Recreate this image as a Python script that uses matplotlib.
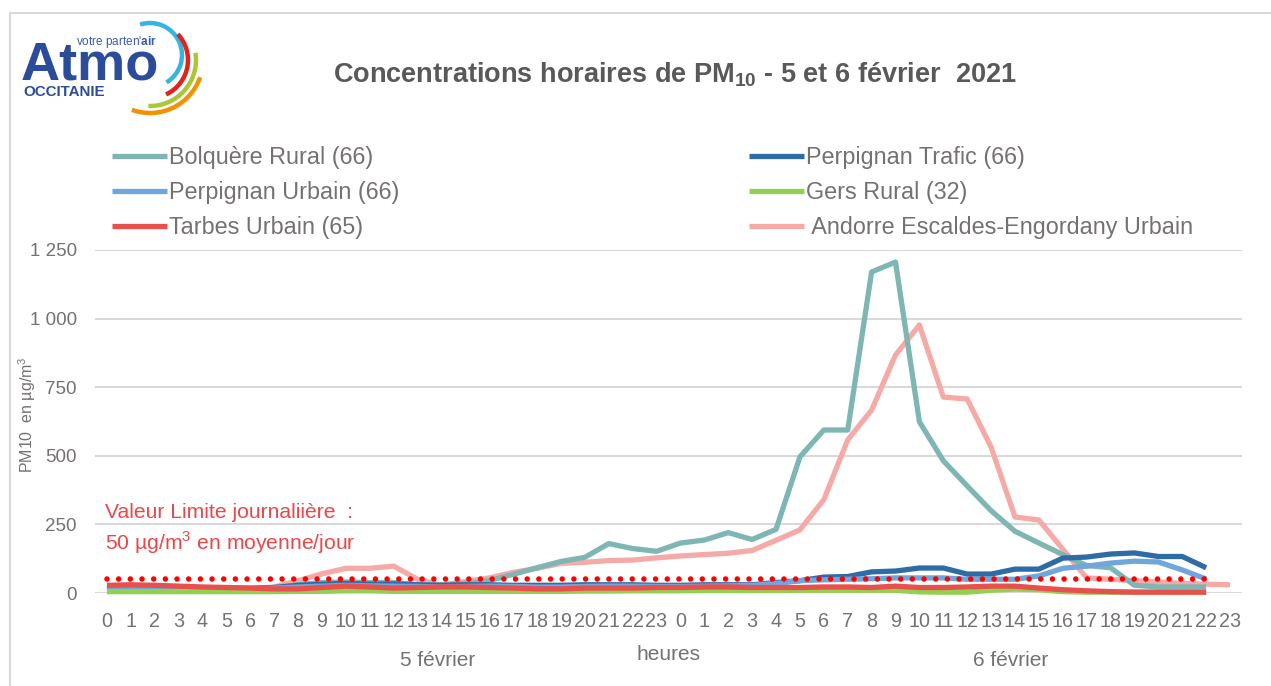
import numpy as np
import matplotlib
matplotlib.use('Agg')
import matplotlib.pyplot as plt
import matplotlib.transforms as mtransforms
from matplotlib import font_manager
from matplotlib.patches import Arc

# Hour labels, two days (5 and 6 February)
hours = [str(h) for h in range(24)] + [str(h) for h in range(24)]

nan = np.nan
bolquere = [20, 20, 18, 18, 18, 18, 18, 20, 30, 38, 40, 38, 38, 30, 30, 35,
            45, 68, 92, 115, 130, 180, 162, 152,
            182, 193, 220, 195, 232, 496, 594, 594, 1170, 1206, 624, 482,
            390, 300, 225, 182, 140, 100, 92, 28, 22, 22, 22, nan]
perpignan_trafic = [18, 18, 18, 16, 16, 16, 16, 20, 28, 32, 35, 32, 33, 30, 28, 30,
                    30, 28, 28, 28, 30, 30, 30, 28,
                    28, 30, 30, 30, 38, 45, 58, 60, 77, 80, 91, 91,
                    69, 69, 87, 87, 127, 131, 142, 146, 133, 133, 92, nan]
perpignan_urbain = [15, 15, 15, 15, 15, 15, 15, 18, 22, 25, 28, 26, 25, 24, 22, 24,
                    25, 24, 22, 22, 24, 25, 25, 24,
                    24, 25, 26, 28, 35, 45, 48, 50, 52, 55, 55, 55,
                    50, 50, 50, 62, 90, 98, 109, 116, 113, 84, 51, nan]
gers_rural = [5, 5, 5, 5, 5, 5, 5, 5, 6, 6, 8, 8, 6, 6, 6, 6,
              6, 6, 6, 6, 7, 7, 8, 8,
              8, 9, 9, 9, 9, 10, 10, 10, 10, 10, 4, 3,
              3, 10, 14, 12, 5, 3, 3, 3, 3, 3, 3, nan]
tarbes_urbain = [28, 30, 28, 25, 22, 20, 18, 15, 15, 20, 25, 22, 18, 20, 22, 22,
                 20, 18, 15, 15, 18, 18, 18, 20,
                 20, 22, 22, 20, 20, 20, 22, 22, 20, 25, 20, 20,
                 22, 25, 25, 18, 12, 8, 5, 3, 3, 3, 3, nan]
andorre = [18, 18, 15, 15, 15, 15, 15, 22, 45, 70, 90, 90, 98, 50, 28, 42,
           55, 75, 90, 108, 112, 118, 120, 128,
           135, 140, 145, 155, 192, 230, 340, 558, 667, 867, 977, 714,
           707, 532, 277, 266, 160, 55, 50, 45, 40, 35, 32, 30]
LIMIT = 50
n_limit = 47

labels = ["Bolquère Rural (66)", "Perpignan Trafic (66)", "Perpignan Urbain (66)",
          "Gers Rural (32)", "Tarbes Urbain (65)", " Andorre Escaldes-Engordany Urbain"]
colors = ["#7DB6B3", "#2E6CA7", "#6FA6DB", "#92D050", "#E8504E", "#F5AAA8"]

# font: narrow if available, else regular with sizes fitted to the widths
names = {f.name for f in font_manager.fontManager.ttflist}
NARROW = 'Liberation Sans Narrow' in names
FONT = 'Liberation Sans Narrow' if NARROW else 'Liberation Sans'
k = 1.2 if NARROW else 1.0
plt.rcParams['font.family'] = [FONT, 'DejaVu Sans']
plt.rcParams['mathtext.fontset'] = 'custom'
plt.rcParams['mathtext.rm'] = FONT
plt.rcParams['mathtext.bf'] = FONT + ':bold'

GRAY = '#767171'
RED_TXT = '#E84849'
W, H = 1271, 686

fig = plt.figure(figsize=(W / 100, H / 100), dpi=100)
ax = fig.add_axes([95 / W, (H - 593) / H, (1242 - 95) / W, (593 - 250) / H])

x = np.arange(len(hours))
series = [andorre, bolquere, perpignan_trafic, perpignan_urbain, gers_rural, tarbes_urbain]
order = [5, 0, 1, 2, 3, 4]
handles = {}
for i, s in zip(order, series):
    ln, = ax.plot(x, s, color=colors[i], lw=3.8, solid_joinstyle='round',
                  solid_capstyle='butt', clip_on=False, zorder=3)
    handles[i] = ln

ax.plot(x[:n_limit], [LIMIT] * n_limit, color='#FF0000', lw=4,
        linestyle=(0, (0.001, 2.1)), dash_capstyle='round', zorder=5)

ax.set_xlim(-0.5, len(hours) - 0.5)
ax.set_ylim(0, 1250)
ax.set_xticks(x)
ax.set_xticklabels(hours)
yt = [0, 250, 500, 750, 1000, 1250]
ax.set_yticks(yt)
ax.set_yticklabels([f"{v:,}".replace(",", " ") for v in yt])
ax.tick_params(axis='x', length=0, pad=14, labelsize=14.2 * k, labelcolor=GRAY)
ax.tick_params(axis='y', length=0, pad=13, labelsize=13.5 * k, labelcolor=GRAY)
for sp in ax.spines.values():
    sp.set_visible(False)
ax.yaxis.grid(True, color='#D9D9D9', lw=1.5)
ax.set_axisbelow(True)

# axis texts
fig.text(27 / W, 1 - 415 / H, "PM10  en µg/m$^{3}$", rotation=90, ha='center',
         va='center', fontsize=11.5 * k, color=GRAY)
tr = mtransforms.blended_transform_factory(ax.transData, fig.transFigure)
ax.text(13.85, 1 - 660 / H, "5 février", transform=tr, ha='center', va='center',
        fontsize=15 * k, color=GRAY)
ax.text(37.8, 1 - 660 / H, "6 février", transform=tr, ha='center', va='center',
        fontsize=15 * k, color=GRAY)
fig.text(669 / W, 1 - 655 / H, "heures", ha='center', va='center',
         fontsize=15 * k, color=GRAY)

# limit annotation
fig.text(105 / W, 1 - 512 / H, "Valeur Limite journaliière  :", ha='left',
         va='center', fontsize=15.2 * k, color=RED_TXT)
fig.text(105 / W, 1 - 543 / H, "50 µg/m$^{3}$ en moyenne/jour", ha='left',
         va='center', fontsize=15.2 * k, color=RED_TXT)

# title
fig.text(675 / W, 1 - 75 / H, r"Concentrations horaires de PM$_{\mathbf{10}}$ - 5 et 6 février  2021",
         ha='center', va='center', fontsize=19.5 * k, fontweight='bold', color='#595959')

# legends (two columns)
leg_kw = dict(loc='upper left', frameon=False, borderpad=0, borderaxespad=0,
              handlelength=2.35, handletextpad=0.08, labelspacing=0.52,
              fontsize=16.8 * k, labelcolor=GRAY)
fig.legend([handles[0], handles[2], handles[4]], [labels[0], labels[2], labels[4]],
           bbox_to_anchor=(112 / W, 1 - 146 / H), **leg_kw)
fig.legend([handles[1], handles[3], handles[5]], [labels[1], labels[3], labels[5]],
           bbox_to_anchor=(749 / W, 1 - 146 / H), **leg_kw)

# logo and frame
lax = fig.add_axes([0, 0, 1, 1], zorder=-1)
lax.set_xlim(0, W)
lax.set_ylim(0, H)
lax.axis('off')
lax.plot([10, W], [H - 13, H - 13], color='#D9D9D9', lw=1.5)
lax.plot([10, 10], [H - 13, 0], color='#D9D9D9', lw=1.5)
for (cx, cy, r, t1, t2, c) in [(150, 55, 32, -59, 108, '#35B4E4'),
                               (150, 60, 38, -65, 43, '#E2231A'),
                               (150, 60, 46, -92, 9, '#A9C934'),
                               (150, 60, 53, -110, -19, '#F39200')]:
    lax.add_patch(Arc((cx, H - cy), 2 * r, 2 * r, theta1=t1, theta2=t2, color=c, lw=3.2))
blue = '#2B4C9B'
lax.text(21, H - 79, "Atmo", ha='left', va='baseline', fontsize=39 * k,
         fontweight='bold', color=blue)
lax.text(157, H - 42, r"votre parten'$\mathbf{air}$", ha='right', va='center',
         fontsize=8.5 * k, color='#3A5BA8')
lax.text(23, H - 92, "OCCITANIE", ha='left', va='center', fontsize=10.9 * k,
         fontweight='bold', color=blue)

fig.savefig('out.png', dpi=100)
